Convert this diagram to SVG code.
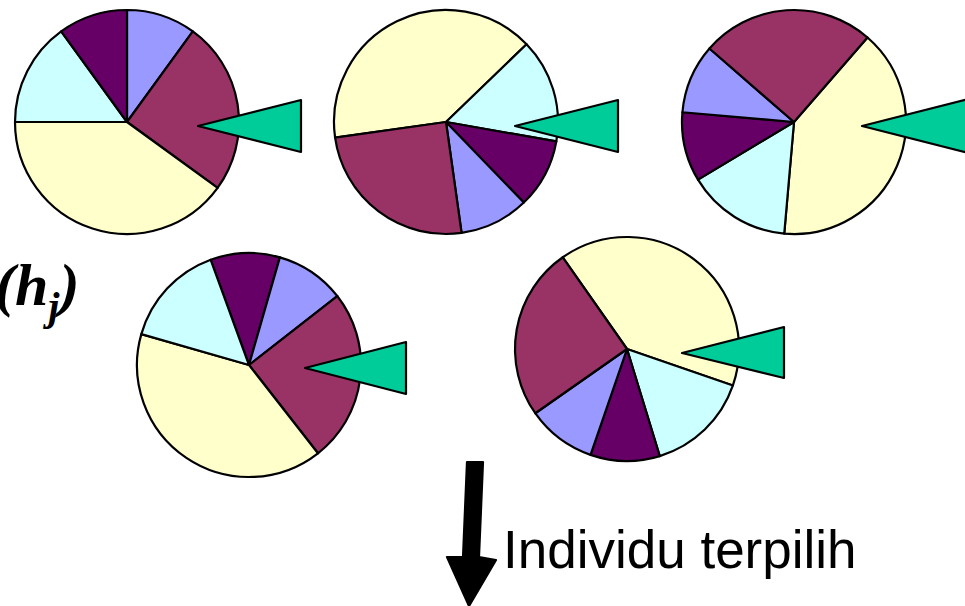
<svg xmlns="http://www.w3.org/2000/svg" width="965" height="606" viewBox="0 0 965 606">
<style>
path,polygon{stroke:#000;stroke-width:2.2;stroke-linejoin:round}
.lav{fill:#9999FF}.mar{fill:#993366}.yel{fill:#FFFFCC}.cya{fill:#CCFFFF}.dpu{fill:#660066}
.ptr{fill:#00CC99}
.lbl{font-family:"Liberation Sans",Arial,sans-serif;font-size:53px;fill:#000}
.hj{font-family:"Liberation Serif","Times New Roman",serif;font-weight:bold;font-style:italic;font-size:60px;fill:#000}
</style>
<rect width="965" height="606" fill="#fff"/>
<g id="pie1">
<path class="lav" d="M127,122 L127,10 A112,112 0 0 1 192.83,31.39 Z"/>
<path class="mar" d="M127,122 L192.83,31.39 A112,112 0 0 1 217.61,187.83 Z"/>
<path class="yel" d="M127,122 L217.61,187.83 A112,112 0 0 1 15,122 Z"/>
<path class="cya" d="M127,122 L15,122 A112,112 0 0 1 61.17,31.39 Z"/>
<path class="dpu" d="M127,122 L61.17,31.39 A112,112 0 0 1 127,10 Z"/>
<polygon class="ptr" points="198,126 301,100 301,152"/>
</g>
<g id="pie2">
<path class="yel" d="M446,122 L335.09,137.59 A112,112 0 0 1 526.56,44.19 Z"/>
<path class="cya" d="M446,122 L526.56,44.19 A112,112 0 0 1 556.30,141.45 Z"/>
<path class="dpu" d="M446,122 L556.30,141.45 A112,112 0 0 1 523.81,202.56 Z"/>
<path class="lav" d="M446,122 L523.81,202.56 A112,112 0 0 1 461.59,232.91 Z"/>
<path class="mar" d="M446,122 L461.59,232.91 A112,112 0 0 1 335.09,137.59 Z"/>
<polygon class="ptr" points="515,126 618,100 618,152"/>
</g>
<g id="pie3">
<path class="yel" d="M794,122 L867.48,37.47 A112,112 0 0 1 784.24,233.57 Z"/>
<path class="cya" d="M794,122 L784.24,233.57 A112,112 0 0 1 698,179.68 Z"/>
<path class="dpu" d="M794,122 L698,179.68 A112,112 0 0 1 682.43,112.24 Z"/>
<path class="lav" d="M794,122 L682.43,112.24 A112,112 0 0 1 709.47,48.52 Z"/>
<path class="mar" d="M794,122 L709.47,48.52 A112,112 0 0 1 867.48,37.47 Z"/>
<polygon class="ptr" points="862,126 968,99 968,153"/>
</g>
<g id="pie4">
<path class="dpu" d="M249,365 L210.69,259.76 A112,112 0 0 1 279.87,257.34 Z"/>
<path class="lav" d="M249,365 L279.87,257.34 A112,112 0 0 1 337.26,296.05 Z"/>
<path class="mar" d="M249,365 L337.26,296.05 A112,112 0 0 1 317.95,453.26 Z"/>
<path class="yel" d="M249,365 L317.95,453.26 A112,112 0 0 1 141.34,334.13 Z"/>
<path class="cya" d="M249,365 L141.34,334.13 A112,112 0 0 1 210.69,259.76 Z"/>
<polygon class="ptr" points="305,368 406,342 406,394"/>
</g>
<g id="pie5">
<path class="yel" d="M627,349 L562.76,257.26 A112,112 0 0 1 732.90,385.46 Z"/>
<path class="cya" d="M627,349 L732.90,385.46 A112,112 0 0 1 659.75,456.11 Z"/>
<path class="dpu" d="M627,349 L659.75,456.11 A112,112 0 0 1 590.54,454.90 Z"/>
<path class="lav" d="M627,349 L590.54,454.90 A112,112 0 0 1 535.26,413.24 Z"/>
<path class="mar" d="M627,349 L535.26,413.24 A112,112 0 0 1 562.76,257.26 Z"/>
<polygon class="ptr" points="682,353 784,327 784,378"/>
</g>
<g id="label-hj">
<text class="hj" x="-5" y="305">(h<tspan font-size="40" dy="15">j</tspan><tspan dy="-15">)</tspan></text>
</g>
<g id="connectors">
<polygon points="467,462 483,462 479,557 496,560 469,606 447,557 463,557" fill="#000" stroke="none"/>
</g>
<g id="label-selected">
<text class="lbl" x="503" y="568">Individu terpilih</text>
</g>
</svg>
